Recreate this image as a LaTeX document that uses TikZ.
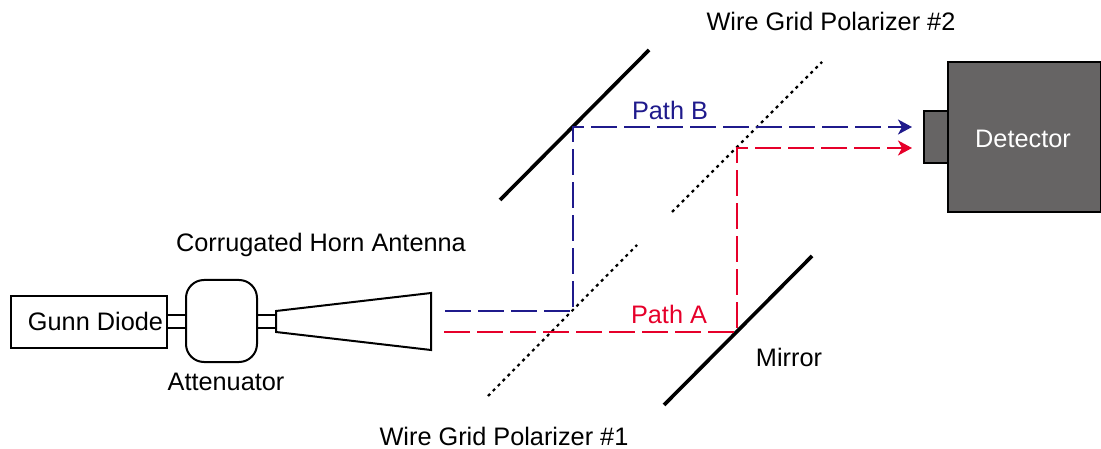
\documentclass[tikz,border=0pt]{standalone}
\usepackage{fontspec}
\setmainfont{Liberation Sans}
\usepackage{xcolor}
\usetikzlibrary{arrows.meta}
\definecolor{pathblue}{HTML}{1F1A8C}
\definecolor{pathred}{HTML}{E6002A}
\definecolor{detgray}{HTML}{666464}

\begin{document}
\begin{tikzpicture}[x=1pt,y=-1pt,
    font=\fontsize{25.3}{30}\selectfont,
    part/.style = {draw, line width=2pt, inner sep=0pt},
    txt/.style = {inner sep=0pt},
    wiregrid/.style = {line width=2.2pt, dash pattern=on 3pt off 4pt},
    mirrorline/.style = {line width=3.6pt},
    beam/.style = {line width=2pt, dash pattern=on 26pt off 7pt},
    beamtip/.style = {-{Stealth[length=14pt,width=15pt,inset=4pt]}}]
      \useasboundingbox (0,0) rectangle (1101,449);

      \node[part, minimum width=22pt, minimum height=13pt] (stub1) at (176.5,321.5) {};
      \node[part, minimum width=22pt, minimum height=13pt] (stub2) at (266,321.5) {};
      \node[part, fill=white, minimum width=156pt, minimum height=52pt] (gunn) at (88.5,322) {};
      \node[part, fill=white, rounded corners=18pt, minimum width=71pt, minimum height=82pt] (atten) at (221.5,321) {};
      \node[txt] (gunntext) at (95.5,321) {Gunn Diode};
      \node[txt] (horntext) at (321,245) {Corrugated Horn Antenna};
      \node[txt] (attentext) at (226,382) {Attenuator};

      % horn
      \coordinate (h1) at (276,311);
      \coordinate (h2) at (431,293);
      \coordinate (h3) at (431,350);
      \coordinate (h4) at (276,332);
      \draw[line width=2pt, fill=white] (h1) -- (h2) -- (h3) -- (h4) -- cycle;

      % polarizers and mirrors
      \coordinate (p1a) at (488,396);
      \coordinate (p1b) at (637,245);
      \coordinate (p2a) at (672,212);
      \coordinate (p2b) at (822,62);
      \coordinate (m1a) at (500,200);
      \coordinate (m1b) at (649,50);
      \coordinate (m2a) at (664,405);
      \coordinate (m2b) at (812,256);
      \draw[wiregrid] (p1a) -- (p1b);
      \draw[wiregrid] (p2a) -- (p2b);
      \draw[mirrorline] (m1a) -- (m1b);
      \draw[mirrorline] (m2a) -- (m2b);

      % detector
      \node[part, fill=detgray, minimum width=25pt, minimum height=52pt] (window) at (936,137) {};
      \node[part, fill=detgray, minimum width=153pt, minimum height=150pt] (det) at (1024.5,137) {};
      \node[txt, text=white] (dettext) at (1023,139) {Detector};

      % beams
      \coordinate (b0) at (445,311);
      \coordinate (b1) at (573,311);
      \coordinate (b2) at (573,127);
      \coordinate (b3) at (912,127);
      \coordinate (r0) at (444,332);
      \coordinate (r1) at (737,332);
      \coordinate (r2) at (737,148);
      \coordinate (r3) at (912,148);
      \draw[beam, pathblue, beamtip] (b0) -- (b1) -- (b2) -- (b3);
      \draw[beam, pathred, beamtip] (r0) -- (r1) -- (r2) -- (r3);

      \node[txt, text=pathblue] (pathb) at (670,110) {Path B};
      \node[txt, text=pathred] (patha) at (669,314) {Path A};
      \node[txt] (mirrortext) at (789,357) {Mirror};
      \node[txt] (wg1) at (504,436) {Wire Grid Polarizer \#1};
      \node[txt] (wg2) at (831,21) {Wire Grid Polarizer \#2};
    \end{tikzpicture}
\end{document}
